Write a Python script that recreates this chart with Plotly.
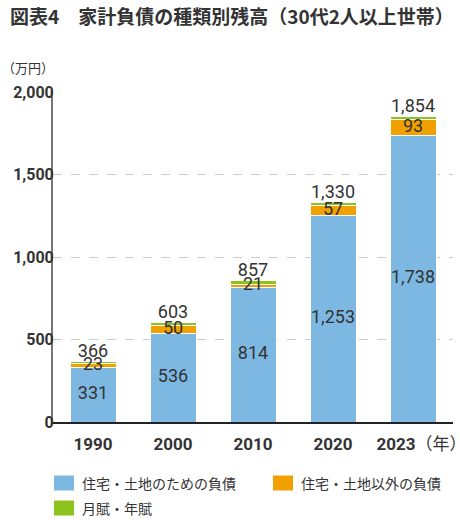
import plotly.graph_objects as go

years = ['1990', '2000', '2010', '2020', '2023']
housing = [331, 536, 814, 1253, 1738]
other = [23, 50, 21, 57, 93]
installment = [12, 17, 22, 20, 23]
totals = [366, 603, 857, 1330, 1854]

names = ['住宅・土地のための負債', '住宅・土地以外の負債', '月賦・年賦']
colors = ['#7cb8e2', '#f0a000', '#8dc21f']
y_ticks = [0, 500, 1000, 1500, 2000]

jp = 'Noto Sans CJK JP'
num = 'Liberation Sans Narrow, Roboto, sans-serif'
ink = '#333333'

fig = go.Figure()
for vals, nm, c in zip([housing, other, installment], names, colors):
    fig.add_trace(go.Bar(x=years, y=vals, name=nm, marker=dict(color=c, line=dict(color='white', width=1)),
                         width=0.575, showlegend=False))

# labels: housing in the middle of the blue bar, other on the orange part, total above
mid_blue = [h / 2 for h in housing]
mid_orange = [h + o / 2 for h, o in zip(housing, other)]
fig.add_trace(go.Scatter(x=years, y=mid_blue, mode='text', text=[f'{v:,}' for v in housing],
                         textposition='middle center', textfont=dict(family=num, size=18, color=ink),
                         showlegend=False, hoverinfo='skip', cliponaxis=False))
fig.add_trace(go.Scatter(x=years, y=mid_orange, mode='text', text=[f'{v:,}' for v in other],
                         textposition='middle center', textfont=dict(family=num, size=18, color=ink),
                         showlegend=False, hoverinfo='skip', cliponaxis=False))
fig.add_trace(go.Scatter(x=years, y=totals, mode='text', text=[f'{v:,}' for v in totals],
                         textposition='top center', textfont=dict(family=num, size=18, color=ink),
                         showlegend=False, hoverinfo='skip', cliponaxis=False))

tick_text = ['<b>' + y + '</b>' for y in years]
tick_text[-1] = '&nbsp;&nbsp;&nbsp;&nbsp;<b>2023</b>（年）'

fig.update_layout(
    width=460, height=520,
    margin=dict(l=53, r=7, t=92, b=98),
    plot_bgcolor='white', paper_bgcolor='white',
    barmode='stack', bargap=0.425,
    font=dict(family=jp, color=ink),
    xaxis=dict(type='category', tickvals=years, ticktext=tick_text, ticks='', automargin=False,
               tickfont=dict(family='Roboto, ' + jp, size=17, color=ink), ticklabelstandoff=6,
               showline=True, linecolor='#222222', linewidth=1.5, showgrid=False),
    yaxis=dict(range=[0, 2000], tickvals=y_ticks, ticktext=['<b>' + f'{v:,}' + '</b>' for v in y_ticks],
               tickfont=dict(family='Roboto', size=16, color=ink), ticks='', automargin=False,
               ticklabelstandoff=-6,
               showline=True, linecolor='#777777', linewidth=2,
               showgrid=True, gridcolor='#cccccc', griddash='dash', gridwidth=1, zeroline=False),
    title=dict(text='<b>図表4　家計負債の種類別残高（30代2人以上世帯）</b>', x=10 / 460, xanchor='left',
               y=1 - 17 / 520, yanchor='middle', font=dict(family=jp, size=19, color=ink)),
)

fig.add_annotation(text='（万円）', xref='paper', yref='paper', x=-53 / 400, y=(422 - 67) / 330,
                   xanchor='left', yanchor='middle', showarrow=False, font=dict(family=jp, size=13, color=ink))

# legend drawn as swatches + labels below the axis
leg = [(54, 483), (273, 483), (54, 508)]
for (lx, ly), nm, c in zip(leg, names, colors):
    x0 = (lx - 53) / 400
    x1 = (lx + 20 - 53) / 400
    y0 = (422 - ly - 7.5) / 330
    y1 = (422 - ly + 7.5) / 330
    fig.add_shape(type='rect', xref='paper', yref='paper', x0=x0, x1=x1, y0=y0, y1=y1,
                  fillcolor=c, line=dict(width=0))
    fig.add_annotation(text=nm, xref='paper', yref='paper', x=(lx + 26 - 53) / 400, y=(422 - ly) / 330,
                       xanchor='left', yanchor='middle', showarrow=False,
                       font=dict(family=jp, size=14, color=ink))

fig.write_html('out.html', config={'displayModeBar': False},
               post_script="document.body.style.margin='0px';")
